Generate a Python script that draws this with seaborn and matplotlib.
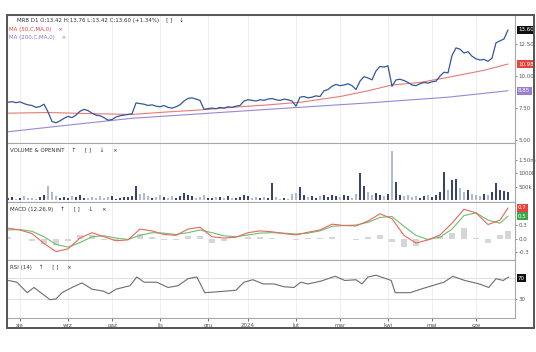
import numpy as np
import pandas as pd
import matplotlib
matplotlib.use("Agg")
import matplotlib.pyplot as plt
from matplotlib.patches import Rectangle
import seaborn as sns

# ---------------- data ----------------
close = [7.95, 8.00, 7.92, 7.98, 7.85, 7.75, 7.70, 7.55, 7.62, 7.80,
         7.20, 6.45, 6.35, 6.50, 6.70, 6.85, 6.75, 6.95, 7.25, 7.40,
         7.30, 7.10, 6.95, 6.90, 6.75, 6.55, 6.60, 6.80, 6.90, 6.95,
         7.00, 7.05, 7.90, 7.85, 7.80, 7.70, 7.75, 7.65, 7.60, 7.70,
         7.55, 7.50, 7.60, 7.75, 8.05, 8.25, 8.30, 8.20, 8.10, 7.40,
         7.45, 7.50, 7.45, 7.55, 7.50, 7.60, 7.55, 7.65, 7.70, 8.05,
         8.15, 8.10, 8.05, 8.15, 8.10, 8.20, 8.25, 8.15, 8.10, 8.20,
         8.15, 8.05, 7.65, 8.35, 8.40, 8.30, 8.35, 8.45, 8.40, 8.85,
         8.95, 9.20, 9.35, 9.25, 9.30, 9.40, 9.25, 8.95, 9.60, 9.95,
         9.85, 9.70, 10.40, 10.75, 10.70, 10.80, 9.20, 9.70, 9.75, 9.65,
         9.50, 9.30, 9.25, 9.40, 9.50, 9.45, 9.55, 9.60, 10.00, 10.30,
         10.25, 11.60, 12.20, 12.10, 11.80, 11.90, 11.55, 11.35, 11.25, 11.30,
         11.15, 11.40, 12.60, 12.75, 12.90, 13.60]

volume_m = [0.08, 0.12, 0.06, 0.10, 0.15, 0.09, 0.11, 0.07, 0.13, 0.20,
            0.55, 0.30, 0.18, 0.10, 0.14, 0.09, 0.16, 0.12, 0.20, 0.10,
            0.08, 0.14, 0.11, 0.18, 0.09, 0.12, 0.15, 0.07, 0.10, 0.13,
            0.12, 0.18, 0.52, 0.25, 0.28, 0.15, 0.10, 0.12, 0.20, 0.14,
            0.09, 0.15, 0.11, 0.18, 0.28, 0.22, 0.15, 0.10, 0.12, 0.20,
            0.10, 0.08, 0.14, 0.12, 0.09, 0.16, 0.11, 0.08, 0.13, 0.20,
            0.15, 0.10, 0.12, 0.09, 0.14, 0.10, 0.65, 0.12, 0.05, 0.08,
            0.06, 0.25, 0.28, 0.50, 0.22, 0.12, 0.18, 0.10, 0.15, 0.20,
            0.14, 0.22, 0.18, 0.12, 0.20, 0.15, 0.10, 0.25, 1.00, 0.55,
            0.30, 0.22, 0.28, 0.20, 0.15, 0.25, 1.85, 0.70, 0.20, 0.15,
            0.22, 0.12, 0.18, 0.10, 0.15, 0.20, 0.12, 0.22, 0.30, 1.05,
            0.40, 0.75, 0.80, 0.45, 0.30, 0.40, 0.25, 0.20, 0.18, 0.25,
            0.22, 0.30, 0.65, 0.40, 0.35, 0.30]

ma50_idx = [0, 10, 23, 31, 40, 48, 58, 65, 73, 83, 90, 96, 103, 110, 119, 125]
ma50_val = [7.10, 7.15, 7.05, 7.00, 7.20, 7.35, 7.60, 7.75, 7.95, 8.40, 8.85, 9.30, 9.50, 9.90, 10.45, 10.94]

ma200_idx = [0, 16, 31, 48, 65, 90, 110, 125]
ma200_val = [5.65, 6.20, 6.70, 7.05, 7.40, 7.90, 8.35, 8.85]

macd_idx = [0, 3, 6, 9, 12, 15, 18, 21, 24, 27, 30, 33, 36, 39, 42, 45, 48, 51, 54, 57, 60,
            63, 66, 69, 72, 75, 78, 81, 84, 87, 90, 93, 96, 99, 102, 105, 108, 111, 114, 117,
            120, 123, 125]
macd_line = [0.24, 0.20, 0.12, -0.10, -0.28, -0.22, 0.02, 0.14, 0.05, -0.04, -0.02, 0.22, 0.18,
             0.10, 0.08, 0.22, 0.26, 0.05, 0.02, 0.04, 0.14, 0.18, 0.16, 0.12, 0.09, 0.15, 0.20,
             0.33, 0.30, 0.29, 0.40, 0.56, 0.45, 0.08, -0.09, -0.02, 0.09, 0.35, 0.66, 0.58,
             0.32, 0.42, 0.69]
macd_signal = [0.20, 0.21, 0.17, 0.05, -0.12, -0.18, -0.08, 0.05, 0.07, 0.02, -0.01, 0.08, 0.14,
               0.13, 0.10, 0.14, 0.20, 0.14, 0.07, 0.05, 0.09, 0.13, 0.14, 0.13, 0.11, 0.13, 0.18,
               0.28, 0.30, 0.31, 0.37, 0.48, 0.50, 0.28, 0.08, -0.01, 0.04, 0.22, 0.52, 0.58,
               0.42, 0.35, 0.51]
macd_hist = [0.04, -0.01, -0.05, -0.12, -0.14, -0.04, 0.08, 0.08, -0.02, -0.05, -0.01, 0.12, 0.04,
             -0.03, -0.02, 0.07, 0.06, -0.08, -0.05, -0.01, 0.04, 0.05, 0.02, -0.01, -0.02, 0.02,
             0.03, 0.05, 0.01, -0.02, 0.04, 0.08, -0.06, -0.18, -0.16, -0.02, 0.06, 0.14, 0.25,
             0.02, -0.10, 0.08, 0.18]

rsi_idx = [0.1, 2.2, 4.8, 6.5, 8.2, 10.5, 12.0, 13.5, 16.0, 18.5, 21.0, 23.8, 25.2, 27.0,
           30.5, 32.2, 34.0, 37.2, 40.0, 42.5, 45.0, 47.2, 49.2, 52.8, 57.0, 59.0, 61.2,
           63.8, 66.5, 69.0, 71.5, 73.2, 75.0, 78.2, 81.8, 84.2, 87.0, 88.5, 90.0, 92.0,
           94.5, 95.8, 96.8, 100.5, 104.0, 107.5, 109.0, 111.2, 114.2, 117.8, 120.2,
           122.0, 123.8, 125.2]
rsi_val = [65.3, 62.0, 42.0, 52.0, 42.0, 28.7, 30.0, 42.0, 52.0, 60.7, 48.7, 45.0, 40.0,
           48.7, 55.3, 72.0, 62.0, 62.0, 52.0, 55.3, 68.7, 72.0, 42.0, 44.0, 46.7, 62.0, 66.7,
           58.7, 58.7, 53.3, 52.0, 62.0, 58.7, 64.0, 73.3, 65.3, 66.7, 58.7, 72.0, 75.3,
           68.7, 65.3, 42.0, 42.0, 50.7, 58.7, 62.0, 73.3, 65.3, 58.7, 52.0, 68.7, 65.3, 72.0]

month_idx = [3, 15, 26, 38, 50, 60, 72, 83, 95, 106, 117]
month_lbl = ["sie", "wrz", "paź", "lis", "gru", "2024", "lut", "mar", "kwi", "maj", "cze"]

header = "MRB D1 O:13.42 H:13.76 L:13.42 C:13.60 (+1.34%)"

# ---------------- styling ----------------
sns.set_theme(style="white")
plt.rcParams['font.family'] = ['DejaVu Sans']

C_PRICE = "#34569a"
C_MA50 = "#e57b74"
C_MA200 = "#9b86d6"
C_UP = "#2d3f7c"
C_DN = "#a9b6da"
C_MACD = "#e8675c"
C_SIG = "#6cbf6c"
C_GRID = "#ececec"
C_TXT = "#555555"
FS = 4.0

W, H = 536, 352
fig = plt.figure(figsize=(W / 100, H / 100), dpi=100)
fig.patch.set_facecolor("white")


def rect(top, bottom):
    return [7 / W, 1 - bottom / H, 508 / W, (bottom - top) / H]


ax_p = fig.add_axes(rect(15, 143))
ax_v = fig.add_axes(rect(143, 202))
ax_m = fig.add_axes(rect(202, 260))
ax_r = fig.add_axes(rect(260, 318))
axes = [ax_p, ax_v, ax_m, ax_r]

n = len(close)
df = pd.DataFrame({"i": np.arange(n), "close": close, "vol": volume_m})
df["dir"] = np.where(df["close"].diff().fillna(0) >= 0, "up", "down")

# price pane
sns.lineplot(data=pd.DataFrame({"i": ma200_idx, "v": ma200_val}), x="i", y="v", ax=ax_p,
             color=C_MA200, lw=0.8)
sns.lineplot(data=pd.DataFrame({"i": ma50_idx, "v": ma50_val}), x="i", y="v", ax=ax_p,
             color=C_MA50, lw=0.8)
sns.lineplot(data=df, x="i", y="close", ax=ax_p, color=C_PRICE, lw=0.9)
ax_p.set_ylim(4.77, 14.77)
ax_p.set_yticks([5, 7.5, 10, 12.5])
ax_p.set_yticklabels(["5.00", "7.50", "10.00", "12.50"])

# volume pane
sns.barplot(data=df, x="i", y="vol", hue="dir", palette={"up": C_UP, "down": C_DN},
            native_scale=True, dodge=False, width=0.45, errorbar=None, legend=False,
            ax=ax_v, linewidth=0)
ax_v.set_ylim(-0.056, 2.13)
ax_v.set_yticks([0.5, 1.0, 1.5])
ax_v.set_yticklabels(["500k", "1000k", "1.50m"])

# MACD pane
sns.barplot(x=macd_idx, y=macd_hist, native_scale=True, color="#d6d6d6", width=0.7,
            errorbar=None, ax=ax_m, linewidth=0)
sns.lineplot(x=macd_idx, y=macd_signal, ax=ax_m, color=C_SIG, lw=0.8)
sns.lineplot(x=macd_idx, y=macd_line, ax=ax_m, color=C_MACD, lw=0.8)
ax_m.set_ylim(-0.467, 0.822)
ax_m.set_yticks([-0.3, 0.0, 0.3])
ax_m.set_yticklabels(["-0.3", "0.0", "0.3"])

# RSI pane
ax_r.axhline(70, color="#dddddd", lw=0.7)
ax_r.axhline(30, color="#dddddd", lw=0.7)
sns.lineplot(x=rsi_idx, y=rsi_val, ax=ax_r, color="#6d6d6d", lw=0.8)
ax_r.set_ylim(-6.2, 104.3)
ax_r.set_yticks([30])
ax_r.set_yticklabels(["30"])

for ax in axes:
    ax.set_xlim(-0.25, 126.75)
    ax.set_xlabel("")
    ax.set_ylabel("")
    ax.yaxis.tick_right()
    ax.tick_params(axis="y", labelsize=FS, colors=C_TXT, length=1.5, width=0.5, pad=1)
    ax.set_xticks(month_idx)
    for x in month_idx:
        ax.axvline(x, color=C_GRID, lw=0.6, zorder=0)
    for s in ax.spines.values():
        s.set_color("#a8a8a8")
        s.set_linewidth(0.8)
    ax.set_facecolor("white")
    if ax is not ax_r:
        ax.tick_params(axis="x", bottom=False, labelbottom=False)

ax_r.set_xticklabels(month_lbl)
ax_r.tick_params(axis="x", labelsize=FS, colors=C_TXT, length=2, width=0.6, pad=1.5,
                 direction="out", bottom=True)

# value boxes on the right axis
def box(ax, y, txt, fc, fg="white"):
    ax.text(1.006, y, txt, transform=ax.get_yaxis_transform(), ha="left", va="center",
            fontsize=FS, color=fg,
            bbox=dict(boxstyle="square,pad=0.25", fc=fc, ec="none"), clip_on=False)

box(ax_p, 13.60, "13.60", "#111111")
box(ax_p, 10.94, "10.98", "#e8433b")
box(ax_p, 8.85, "8.85", "#9a7fd0")
box(ax_m, 0.69, "0.7", "#e8433b")
box(ax_m, 0.51, "0.5", "#3aa84a")
box(ax_r, 70, "70", "#111111")

# headers
fig.text(17 / W, 1 - 20 / H, header + "    [ ]    ↓", fontsize=FS, color="#333333",
         va="center", ha="left")
fig.text(9 / W, 1 - 29 / H, "MA (50,C,MA,0)    ×", fontsize=FS, color="#e0443e",
         va="center", ha="left")
fig.text(9 / W, 1 - 37 / H, "MA (200,C,MA,0)    ×", fontsize=FS, color="#8a70c9",
         va="center", ha="left")
fig.text(10 / W, 1 - 151 / H, "VOLUME & OPENINT    ↑     [ ]     ↓     ×", fontsize=FS,
         color="#333333", va="center", ha="left")
fig.text(10 / W, 1 - 209 / H, "MACD (12,26,9)    ↑     [ ]     ↓     ×", fontsize=FS,
         color="#333333", va="center", ha="left")
fig.text(10 / W, 1 - 267 / H, "RSI (14)    ↑     [ ]     ×", fontsize=FS,
         color="#333333", va="center", ha="left")

# outer frame
fig.add_artist(Rectangle((7 / W, 1 - 328 / H), 527 / W, 313 / H, transform=fig.transFigure,
                         fill=False, ec="#555555", lw=1.4))

fig.savefig("out.png", dpi=100, facecolor="white")
